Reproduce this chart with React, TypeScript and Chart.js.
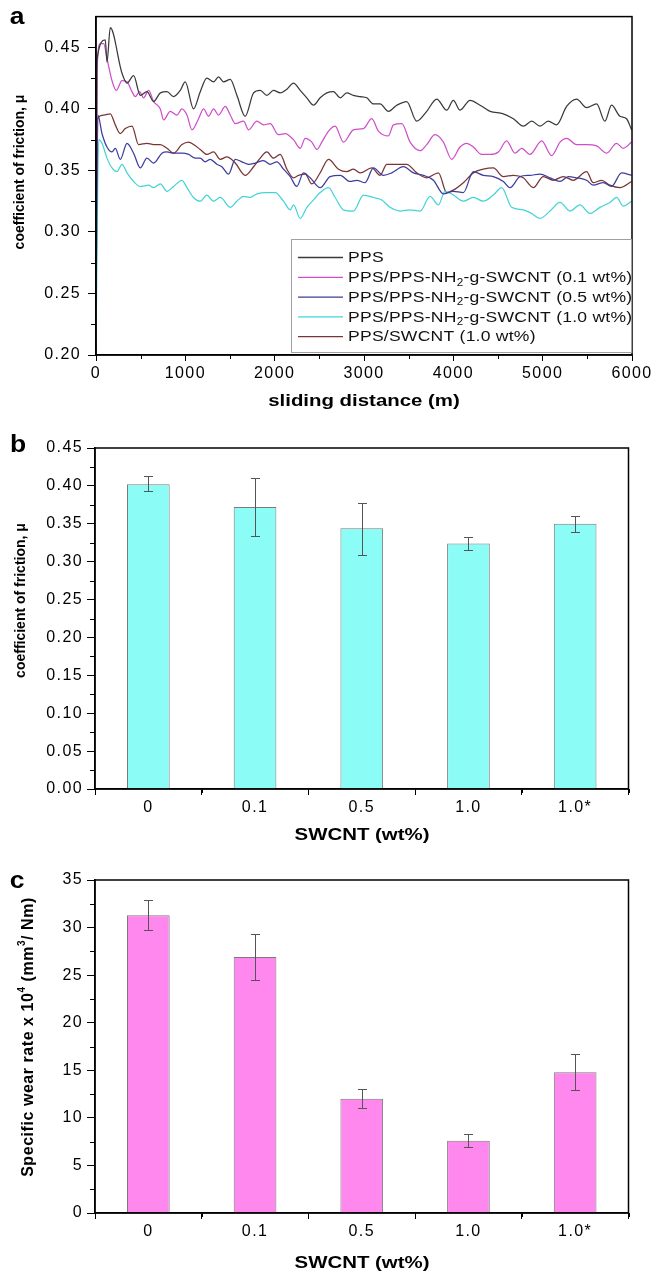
import React, { useEffect, useRef } from 'react';
import { Chart, registerables } from 'chart.js';

Chart.register(...registerables);

const FONT = '"Liberation Sans", Arial, Helvetica, sans-serif';

// ---------------- Panel a: friction vs sliding distance ----------------
const seriesLabels = [
  'PPS',
  'PPS/PPS-NH_2-g-SWCNT (0.1 wt%)',
  'PPS/PPS-NH_2-g-SWCNT (0.5 wt%)',
  'PPS/PPS-NH_2-g-SWCNT (1.0 wt%)',
  'PPS/SWCNT (1.0 wt%)',
];
const seriesColors = ['#3a3a3a', '#cf4fc9', '#3d3d9c', '#45d3d6', '#7a3434'];

const ppsPts = [
  [0, 0.2], [11, 0.44], [104, 0.456], [123, 0.438], [160, 0.466], [291, 0.429], [347, 0.421], [421, 0.427],
  [496, 0.411], [570, 0.414], [645, 0.406], [720, 0.413], [794, 0.414], [869, 0.41], [943, 0.415], [999, 0.422],
  [1092, 0.4], [1167, 0.414], [1241, 0.425], [1316, 0.422], [1372, 0.426], [1428, 0.422], [1503, 0.424], [1577, 0.411],
  [1670, 0.394], [1764, 0.413], [1838, 0.415], [1913, 0.411], [1987, 0.415], [2062, 0.413], [2137, 0.416], [2211, 0.421],
  [2286, 0.415], [2360, 0.409], [2435, 0.403], [2509, 0.409], [2584, 0.413], [2658, 0.414], [2733, 0.409], [2807, 0.413],
  [2882, 0.411], [2956, 0.41], [3031, 0.409], [3106, 0.404], [3180, 0.404], [3273, 0.398], [3367, 0.403], [3478, 0.406],
  [3590, 0.39], [3702, 0.398], [3814, 0.408], [3926, 0.399], [4000, 0.407], [4075, 0.399], [4187, 0.407], [4299, 0.403],
  [4411, 0.398], [4560, 0.396], [4672, 0.392], [4783, 0.386], [4877, 0.39], [4970, 0.386], [5063, 0.39], [5156, 0.387],
  [5268, 0.402], [5380, 0.408], [5492, 0.401], [5604, 0.404], [5697, 0.39], [5771, 0.403], [5865, 0.394], [5939, 0.392],
  [5995, 0.383],
];

const nh01Pts = [
  [0, 0.24], [11, 0.43], [48, 0.453], [86, 0.453], [123, 0.441], [179, 0.423], [227, 0.415], [291, 0.423], [347, 0.422],
  [403, 0.414], [440, 0.41], [488, 0.414], [533, 0.409], [589, 0.415], [645, 0.406], [720, 0.4], [757, 0.391], [831, 0.398],
  [906, 0.395], [962, 0.4], [1018, 0.395], [1074, 0.383], [1148, 0.392], [1204, 0.4], [1260, 0.394], [1316, 0.4],
  [1372, 0.395], [1447, 0.402], [1503, 0.395], [1559, 0.388], [1652, 0.39], [1708, 0.383], [1801, 0.39], [1876, 0.387],
  [1950, 0.388], [2043, 0.379], [2118, 0.38], [2211, 0.375], [2286, 0.368], [2342, 0.376], [2416, 0.373], [2472, 0.367],
  [2528, 0.373], [2603, 0.382], [2677, 0.386], [2770, 0.373], [2882, 0.383], [2994, 0.384], [3087, 0.392], [3161, 0.382],
  [3273, 0.378], [3329, 0.387], [3423, 0.388], [3516, 0.373], [3628, 0.366], [3702, 0.371], [3795, 0.379], [3889, 0.373],
  [3982, 0.359], [4075, 0.369], [4150, 0.372], [4224, 0.369], [4317, 0.363], [4411, 0.363], [4504, 0.365], [4597, 0.374],
  [4690, 0.364], [4765, 0.368], [4858, 0.363], [4989, 0.374], [5100, 0.362], [5194, 0.373], [5268, 0.376], [5380, 0.371],
  [5492, 0.371], [5604, 0.37], [5716, 0.364], [5827, 0.372], [5902, 0.368], [5995, 0.373],
];

const nh05Pts = [
  [0, 0.24], [22, 0.395], [67, 0.38], [123, 0.369], [179, 0.365], [216, 0.368], [272, 0.359], [347, 0.372], [421, 0.364],
  [496, 0.352], [570, 0.36], [645, 0.356], [738, 0.364], [794, 0.365], [869, 0.364], [962, 0.364], [1037, 0.363],
  [1111, 0.36], [1167, 0.36], [1223, 0.357], [1279, 0.359], [1353, 0.355], [1409, 0.353], [1484, 0.347], [1559, 0.359],
  [1633, 0.357], [1708, 0.355], [1782, 0.356], [1876, 0.358], [1950, 0.355], [2025, 0.357], [2099, 0.351], [2174, 0.345],
  [2248, 0.337], [2323, 0.348], [2397, 0.344], [2509, 0.336], [2621, 0.345], [2733, 0.346], [2845, 0.341], [2919, 0.342],
  [3012, 0.34], [3106, 0.352], [3217, 0.346], [3311, 0.348], [3441, 0.353], [3553, 0.348], [3665, 0.346], [3777, 0.342],
  [3889, 0.331], [4000, 0.333], [4112, 0.332], [4224, 0.349], [4336, 0.346], [4448, 0.345], [4560, 0.341], [4634, 0.336],
  [4746, 0.345], [4858, 0.346], [4970, 0.347], [5082, 0.344], [5194, 0.341], [5287, 0.345], [5380, 0.344], [5492, 0.342],
  [5566, 0.338], [5678, 0.34], [5771, 0.337], [5883, 0.348], [5995, 0.346],
];

const nh10Pts = [
  [0, 0.21], [30, 0.375], [67, 0.372], [123, 0.36], [179, 0.352], [235, 0.349], [291, 0.355], [347, 0.348], [421, 0.341],
  [496, 0.337], [589, 0.338], [645, 0.336], [720, 0.339], [794, 0.333], [869, 0.337], [962, 0.342], [1018, 0.336],
  [1092, 0.328], [1167, 0.325], [1241, 0.33], [1316, 0.325], [1391, 0.328], [1503, 0.32], [1577, 0.325], [1652, 0.329],
  [1726, 0.328], [1801, 0.331], [1913, 0.332], [2006, 0.332], [2099, 0.325], [2174, 0.318], [2211, 0.322], [2286, 0.311],
  [2360, 0.32], [2435, 0.326], [2509, 0.332], [2603, 0.336], [2677, 0.328], [2770, 0.318], [2882, 0.317], [2994, 0.33],
  [3106, 0.328], [3199, 0.326], [3292, 0.32], [3404, 0.317], [3516, 0.318], [3628, 0.317], [3739, 0.329], [3833, 0.322],
  [3907, 0.333], [4000, 0.33], [4112, 0.325], [4224, 0.328], [4336, 0.325], [4448, 0.33], [4541, 0.336], [4653, 0.32],
  [4783, 0.318], [4877, 0.315], [4970, 0.311], [5082, 0.317], [5194, 0.324], [5305, 0.317], [5417, 0.322], [5529, 0.315],
  [5641, 0.32], [5753, 0.324], [5827, 0.328], [5902, 0.321], [5995, 0.325],
];

const swcntPts = [
  [0, 0.2], [15, 0.392], [86, 0.395], [160, 0.396], [216, 0.387], [272, 0.38], [328, 0.384], [403, 0.386], [477, 0.371],
  [570, 0.372], [645, 0.371], [720, 0.371], [794, 0.368], [869, 0.364], [962, 0.371], [1037, 0.373], [1092, 0.371],
  [1167, 0.367], [1241, 0.363], [1316, 0.365], [1391, 0.359], [1465, 0.361], [1559, 0.356], [1670, 0.346], [1764, 0.353],
  [1838, 0.36], [1913, 0.365], [1987, 0.36], [2062, 0.363], [2137, 0.351], [2211, 0.344], [2267, 0.346], [2342, 0.347],
  [2416, 0.339], [2509, 0.348], [2603, 0.359], [2714, 0.351], [2807, 0.349], [2882, 0.351], [2956, 0.348], [3087, 0.352],
  [3180, 0.346], [3255, 0.355], [3367, 0.355], [3478, 0.355], [3590, 0.348], [3702, 0.344], [3833, 0.348], [3926, 0.332],
  [4000, 0.334], [4112, 0.34], [4224, 0.348], [4336, 0.351], [4448, 0.352], [4560, 0.345], [4672, 0.346], [4783, 0.344],
  [4895, 0.336], [5007, 0.345], [5119, 0.342], [5231, 0.345], [5343, 0.342], [5492, 0.349], [5566, 0.34], [5660, 0.342],
  [5753, 0.338], [5865, 0.336], [5995, 0.341],
];

const seriesPts = [ppsPts, nh01Pts, nh05Pts, nh10Pts, swcntPts];
const distanceTicks = [0, 1000, 2000, 3000, 4000, 5000, 6000];
const cofTicksA = [0.2, 0.25, 0.3, 0.35, 0.4, 0.45];

// ---------------- Panel b: mean friction coefficient ----------------
const swcntLabels = ['0', '0.1', '0.5', '1.0', '1.0*'];
const cofMean = [0.402, 0.372, 0.344, 0.324, 0.35];
const cofErrLow = [0.393, 0.334, 0.309, 0.316, 0.339];
const cofErrHigh = [0.413, 0.41, 0.378, 0.332, 0.36];
const cofTicksB = [0, 0.05, 0.1, 0.15, 0.2, 0.25, 0.3, 0.35, 0.4, 0.45];

// ---------------- Panel c: specific wear rate ----------------
const wearMean = [31.3, 26.9, 12.0, 7.6, 14.8];
const wearErrLow = [29.7, 24.5, 11.0, 6.9, 12.9];
const wearErrHigh = [32.9, 29.3, 13.0, 8.3, 16.7];
const wearTicks = [0, 5, 10, 15, 20, 25, 30, 35];

// ---------------- helpers ----------------
type Seg = { t: string; m: number };
function parseRich(s: string): Seg[] {
  const out: Seg[] = [];
  let buf = '';
  for (let i = 0; i < s.length; i++) {
    const ch = s[i];
    if ((ch === '_' || ch === '^') && i + 1 < s.length) {
      if (buf) out.push({ t: buf, m: 0 });
      buf = '';
      out.push({ t: s[i + 1], m: ch === '_' ? 1 : -1 });
      i++;
    } else buf += ch;
  }
  if (buf) out.push({ t: buf, m: 0 });
  return out;
}

function drawRich(ctx: any, s: string, x: number, y: number, o: any) {
  const size = o.size;
  const weight = o.bold ? 'bold ' : '';
  const segs = parseRich(s);
  ctx.save();
  ctx.translate(x, y);
  if (o.rotate) ctx.rotate(-Math.PI / 2);
  ctx.scale(o.sx || 1, 1);
  ctx.letterSpacing = (o.ls || 0) + 'px';
  ctx.textBaseline = 'middle';
  ctx.textAlign = 'left';
  ctx.fillStyle = o.color || '#000';
  const fontFor = (g: Seg) => weight + (g.m ? Math.round(size * 0.65) : size) + 'px ' + FONT;
  const widths = segs.map((g) => {
    ctx.font = fontFor(g);
    return ctx.measureText(g.t).width;
  });
  const total = widths.reduce((a, b) => a + b, 0);
  let cx = o.align === 'left' ? 0 : -total / 2;
  segs.forEach((g, i) => {
    ctx.font = fontFor(g);
    const dy = g.m === 1 ? size * 0.33 : g.m === -1 ? -size * 0.4 : 0;
    ctx.fillText(g.t, cx, dy);
    cx += widths[i];
  });
  ctx.restore();
}

function spacingPlugin(ls: number) {
  return {
    id: 'spacing',
    beforeLayout(chart: any) {
      chart.ctx.letterSpacing = ls + 'px';
    },
    beforeDraw(chart: any) {
      chart.ctx.letterSpacing = ls + 'px';
    },
  };
}

function framePlugin(minorX: number[], minorY: number[], lenX: number, lenY: number) {
  return {
    id: 'frame',
    afterDraw(chart: any) {
      const { ctx, chartArea, scales } = chart;
      const { left, top, right, bottom } = chartArea;
      ctx.save();
      ctx.strokeStyle = '#000';
      ctx.lineWidth = 1.5;
      ctx.strokeRect(left, top, right - left, bottom - top);
      ctx.lineWidth = 1;
      ctx.beginPath();
      minorX.forEach((v) => {
        const px = Math.round(scales.x.getPixelForValue(v)) + 0.5;
        ctx.moveTo(px, bottom);
        ctx.lineTo(px, bottom + lenX);
      });
      minorY.forEach((v) => {
        const py = Math.round(scales.y.getPixelForValue(v)) + 0.5;
        ctx.moveTo(left, py);
        ctx.lineTo(left - lenY, py);
      });
      ctx.stroke();
      ctx.restore();
    },
  };
}

function errorBarPlugin(lo: number[], hi: number[]) {
  return {
    id: 'errbars',
    afterDatasetsDraw(chart: any) {
      const { ctx, scales } = chart;
      ctx.save();
      ctx.strokeStyle = '#555';
      ctx.lineWidth = 1;
      ctx.beginPath();
      lo.forEach((l, i) => {
        const px = Math.round(scales.x.getPixelForValue(i)) + 0.5;
        const y1 = Math.round(scales.y.getPixelForValue(l)) + 0.5;
        const y2 = Math.round(scales.y.getPixelForValue(hi[i])) + 0.5;
        ctx.moveTo(px, y1);
        ctx.lineTo(px, y2);
        ctx.moveTo(px - 4.5, y1);
        ctx.lineTo(px + 4.5, y1);
        ctx.moveTo(px - 4.5, y2);
        ctx.lineTo(px + 4.5, y2);
      });
      ctx.stroke();
      ctx.restore();
    },
  };
}

function textPlugin(items: any[]) {
  return {
    id: 'texts',
    afterDraw(chart: any) {
      items.forEach((it) => drawRich(chart.ctx, it.text, it.x, it.y, it));
    },
  };
}

const legendPlugin = {
  id: 'customLegend',
  afterDraw(chart: any) {
    const ctx = chart.ctx;
    const right = chart.chartArea.right;
    const boxL = 291, boxT = 239, boxB = 353;
    ctx.save();
    ctx.fillStyle = '#fff';
    ctx.fillRect(boxL, boxT, right - boxL, boxB - boxT);
    ctx.strokeStyle = '#a0a0a0';
    ctx.lineWidth = 1;
    ctx.strokeRect(boxL + 0.5, boxT + 0.5, right - boxL - 1, boxB - boxT - 1);
    seriesLabels.forEach((lab, i) => {
      const y = 257.5 + i * 19.8;
      ctx.strokeStyle = seriesColors[i];
      ctx.lineWidth = 1.3;
      ctx.beginPath();
      ctx.moveTo(298, y);
      ctx.lineTo(343, y);
      ctx.stroke();
      drawRich(ctx, lab, 348, y + 0.5, { size: 15, align: 'left', sx: 1.17, ls: 0.2, color: '#111' });
    });
    ctx.restore();
  },
};

function linAxis(min: number, max: number, ticks: number[], fmt: (v: number) => string, size: number, pad: number, tickLen: number) {
  return {
    type: 'linear',
    min,
    max,
    bounds: 'data',
    offset: false,
    afterBuildTicks: (s: any) => {
      s.ticks = ticks.map((v) => ({ value: v }));
    },
    afterFit: (s: any) => {
      if (s.isHorizontal()) s.height = size;
      else s.width = size;
    },
    ticks: {
      autoSkip: false,
      maxRotation: 0,
      minRotation: 0,
      padding: pad,
      color: '#000',
      font: { family: FONT, size: 16 },
      callback: (v: any) => fmt(Number(v)),
    },
    grid: { display: true, drawOnChartArea: false, drawTicks: true, tickLength: tickLen, color: '#000', lineWidth: 1 },
    border: { display: true, color: '#000', width: 1.5 },
    title: { display: false },
  };
}

function mids(arr: number[]) {
  const out: number[] = [];
  for (let i = 0; i < arr.length - 1; i++) out.push((arr[i] + arr[i + 1]) / 2);
  return out;
}

function buildA() {
  return {
    type: 'line',
    data: {
      datasets: seriesPts.map((pts, i) => ({
        label: seriesLabels[i],
        data: pts.map(([x, y]) => ({ x, y })),
        borderColor: seriesColors[i],
        borderWidth: 1.25,
        pointRadius: 0,
        fill: false,
        cubicInterpolationMode: 'monotone',
      })),
    },
    options: {
      animation: false,
      responsive: false,
      devicePixelRatio: 1,
      layout: { padding: { left: 0, top: 14, right: 24, bottom: 0 } },
      plugins: { legend: { display: false }, tooltip: { enabled: false } },
      scales: {
        x: linAxis(0, 6000, distanceTicks, (v) => String(v), 65, 3, 6),
        y: linAxis(0.2, 0.475, cofTicksA, (v) => v.toFixed(2), 96, 7, 8),
      },
    },
    plugins: [
      spacingPlugin(1.4),
      framePlugin(mids(distanceTicks), mids(cofTicksA), 4, 5),
      legendPlugin,
      textPlugin([
        { text: 'a', x: 17, y: 18, size: 23, bold: true, sx: 1.15 },
        { text: 'coefficient of friction, μ', x: 20, y: 172, size: 14, bold: true, rotate: true },
        { text: 'sliding distance (m)', x: 364, y: 401, size: 17, bold: true, sx: 1.2 },
      ]),
    ],
  };
}

function buildBar(mean: number[], lo: number[], hi: number[], yMin: number, yMax: number, yTicks: number[], fmt: (v: number) => string, color: string, top: number, plotH: number, texts: any[]) {
  const catTicks = swcntLabels.map((_, i) => i);
  const catMinor = [-0.5, 0.5, 1.5, 2.5, 3.5, 4.5];
  return {
    type: 'bar',
    data: {
      datasets: [
        {
          data: mean.map((y, i) => ({ x: i, y })),
          backgroundColor: color,
          borderColor: '#7a7a7a',
          borderWidth: 1,
          categoryPercentage: 1,
          barPercentage: 0.4,
        },
      ],
    },
    options: {
      animation: false,
      responsive: false,
      devicePixelRatio: 1,
      layout: { padding: { left: 0, top, right: 27.5, bottom: 0 } },
      plugins: { legend: { display: false }, tooltip: { enabled: false } },
      scales: {
        x: linAxis(-0.5, 4.5, catTicks, (v) => swcntLabels[Math.round(v)] ?? '', 425 - top - plotH, 3, 6),
        y: linAxis(yMin, yMax, yTicks, fmt, 95, 4, 8),
      },
    },
    plugins: [
      spacingPlugin(1.4),
      framePlugin(catMinor, mids(yTicks), 4, 5),
      errorBarPlugin(lo, hi),
      textPlugin(texts),
    ],
  };
}

function buildB() {
  return buildBar(cofMean, cofErrLow, cofErrHigh, 0, 0.45, cofTicksB, (v) => v.toFixed(2), '#8cfcf6', 23, 341, [
    { text: 'b', x: 18, y: 21, size: 23, bold: true, sx: 1.15 },
    { text: 'coefficient of friction, μ', x: 21, y: 175.5, size: 14, bold: true, rotate: true },
    { text: 'SWCNT (wt%)', x: 362, y: 410, size: 17, bold: true, sx: 1.2 },
  ]);
}

function buildC() {
  return buildBar(wearMean, wearErrLow, wearErrHigh, 0, 35, wearTicks, (v) => String(v), '#ff88ef', 30, 333, [
    { text: 'c', x: 17, y: 32, size: 23, bold: true, sx: 1.15 },
    { text: 'Specific wear rate x 10^4 (mm^3/ Nm)', x: 29, y: 187, size: 16, bold: true, rotate: true, ls: 0.55 },
    { text: 'SWCNT (wt%)', x: 362, y: 413, size: 17, bold: true, sx: 1.2 },
  ]);
}

function ChartCanvas({ top, height, build }: { top: number; height: number; build: () => any }) {
  const ref = useRef<HTMLCanvasElement | null>(null);
  useEffect(() => {
    if (!ref.current) return;
    const chart = new Chart(ref.current, build());
    return () => chart.destroy();
  }, []);
  return (
    <canvas
      ref={ref}
      width={656}
      height={height}
      style={{ position: 'absolute', left: 0, top, width: 656, height, display: 'block' }}
    />
  );
}

export default function App() {
  return (
    <div style={{ position: 'absolute', left: 0, top: 0, width: 656, height: 1275, background: '#fff', overflow: 'hidden' }}>
      <ChartCanvas top={0} height={420} build={buildA} />
      <ChartCanvas top={425} height={425} build={buildB} />
      <ChartCanvas top={850} height={425} build={buildC} />
    </div>
  );
}
